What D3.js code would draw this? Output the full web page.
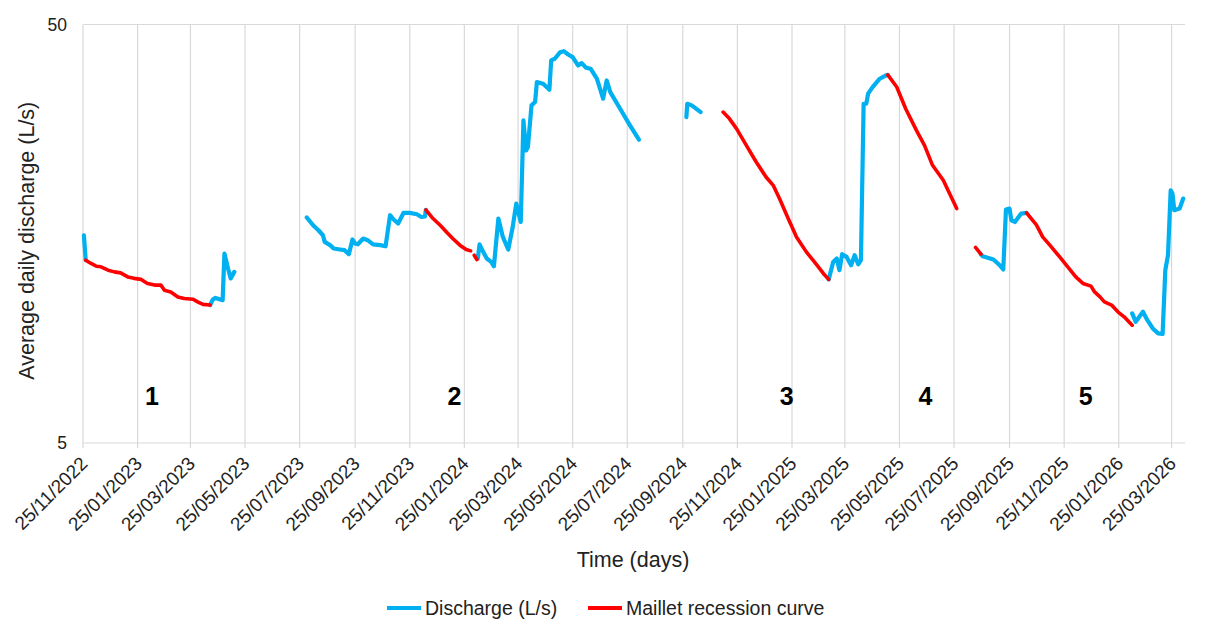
<!DOCTYPE html>
<html>
<head>
<meta charset="utf-8">
<script src="https://cdn.jsdelivr.net/npm/d3@7"></script>
<style>
  html, body { margin: 0; padding: 0; background: #fff; }
  svg { display: block; font-family: "Liberation Sans", Arial, sans-serif; }
</style>
</head>
<body>
<svg id="chart" width="1206" height="630"></svg>
<script>
// ---------- DATA ----------
const xTickDates = ["2022-11-25","2023-01-25","2023-03-25","2023-05-25","2023-07-25","2023-09-25",
  "2023-11-25","2024-01-25","2024-03-25","2024-05-25","2024-07-25","2024-09-25","2024-11-25",
  "2025-01-25","2025-03-25","2025-05-25","2025-07-25","2025-09-25","2025-11-25","2026-01-25","2026-03-25"];
const xDomain = ["2022-11-25", "2026-04-09"];
const yDomain = [5, 50];
const yTickValues = [5, 50];

// Discharge (L/s) observed segments
const discharge1a = [["2022-11-26",15.68],["2022-11-28",13.67]];
const discharge1b = [["2023-04-16",10.68],["2023-04-19",11.01],["2023-04-22",11.11],["2023-04-30",10.97],
  ["2023-05-02",14.18],["2023-05-06",13.06],["2023-05-09",12.37],["2023-05-13",12.82]];
const discharge2a = [["2023-08-02",17.29],["2023-08-09",16.57],["2023-08-15",16.12],["2023-08-20",15.68],
  ["2023-08-22",15.12],["2023-08-28",14.85],["2023-09-01",14.58],["2023-09-08",14.50],["2023-09-13",14.45],
  ["2023-09-18",14.13],["2023-09-22",15.32],["2023-09-25",14.98],["2023-09-28",14.92],["2023-10-04",15.40],
  ["2023-10-09",15.26],["2023-10-15",14.92],["2023-10-23",14.85],["2023-10-29",14.76],["2023-11-03",17.51],
  ["2023-11-07",17.10],["2023-11-12",16.73],["2023-11-18",17.73],["2023-11-25",17.73],["2023-12-03",17.60],
  ["2023-12-08",17.34],["2023-12-12",17.40],["2023-12-13",18.03]];
const discharge2b = [["2024-02-09",13.80],["2024-02-11",14.92],["2024-02-14",14.45],["2024-02-19",13.80],
  ["2024-02-24",13.54],["2024-02-27",13.22],["2024-03-03",17.19],["2024-03-08",15.54],["2024-03-14",14.50],
  ["2024-03-19",16.41],["2024-03-23",18.67],["2024-03-28",16.87],["2024-03-31",29.50],["2024-04-03",25.00],
  ["2024-04-05",25.48],["2024-04-09",32.04],["2024-04-13",32.63],["2024-04-15",36.41],["2024-04-22",36.10],
  ["2024-04-29",34.93],["2024-05-01",41.03],["2024-05-05",41.41],["2024-05-11",42.94],["2024-05-15",43.18],
  ["2024-05-20",42.40],["2024-05-25",41.78],["2024-05-31",39.92],["2024-06-04",40.43],["2024-06-09",39.42],
  ["2024-06-14",39.20],["2024-06-21",37.10],["2024-06-28",33.24],["2024-07-02",36.75],["2024-07-06",34.46],
  ["2024-07-17",31.46],["2024-07-28",28.70],["2024-08-07",26.53]];
const discharge2c = [["2024-09-29",30.04],["2024-09-30",32.33],["2024-10-05",32.04],["2024-10-15",30.88]];
const discharge3 = [["2025-03-07",12.30],["2025-03-12",13.54],["2025-03-16",13.80],["2025-03-19",12.94],
  ["2025-03-22",14.13],["2025-03-27",13.92],["2025-04-01",13.30],["2025-04-05",14.05],["2025-04-09",13.37],
  ["2025-04-12",13.67],["2025-04-15",32.33],["2025-04-18",32.33],["2025-04-20",34.17],["2025-04-25",35.44],
  ["2025-05-03",37.10],["2025-05-10",37.80],["2025-05-12",37.89]];
const discharge5a = [["2025-08-24",14.13],["2025-08-26",13.97],["2025-09-07",13.72],["2025-09-14",13.30],
  ["2025-09-18",12.99],["2025-09-21",18.07],["2025-09-25",18.16],["2025-09-27",17.03],["2025-10-01",16.87],
  ["2025-10-08",17.67],["2025-10-14",17.73]];
const discharge5b = [["2026-02-09",10.20],["2026-02-13",9.74],["2026-02-17",10.01],["2026-02-21",10.29],
  ["2026-02-26",9.83],["2026-03-04",9.39],["2026-03-10",9.14],["2026-03-15",9.11],["2026-03-18",12.94],
  ["2026-03-21",14.05],["2026-03-24",20.08],["2026-03-26",19.72],["2026-03-28",18.00],["2026-04-03",18.16],
  ["2026-04-07",19.19]];

// Maillet recession curve segments
const maillet1 = [["2022-11-28",13.67],["2022-12-04",13.43],["2022-12-10",13.22],["2022-12-15",13.18],
  ["2022-12-23",12.94],["2022-12-30",12.82],["2023-01-06",12.75],["2023-01-14",12.47],["2023-01-21",12.37],
  ["2023-01-29",12.30],["2023-02-05",12.03],["2023-02-13",11.92],["2023-02-20",11.92],["2023-02-24",11.59],
  ["2023-03-03",11.48],["2023-03-11",11.17],["2023-03-18",11.07],["2023-03-28",11.03],["2023-04-02",10.87],
  ["2023-04-08",10.72],["2023-04-16",10.68]];
const maillet2a = [["2023-12-13",18.03],["2023-12-21",17.19],["2023-12-29",16.57],["2024-01-05",15.97],
  ["2024-01-12",15.40],["2024-01-20",14.85],["2024-01-27",14.50],["2024-02-01",14.39]];
const maillet2b = [["2024-02-05",14.05],["2024-02-08",13.72]];
const maillet3 = [["2024-11-09",30.88],["2024-11-16",29.79],["2024-11-24",28.19],["2024-12-05",25.72],
  ["2024-12-16",23.46],["2024-12-27",21.61],["2025-01-04",20.64],["2025-01-11",19.19],["2025-01-20",17.34],
  ["2025-01-30",15.54],["2025-02-10",14.31],["2025-02-21",13.37],["2025-03-01",12.71],["2025-03-07",12.30]];
const maillet4 = [["2025-05-12",37.89],["2025-05-22",35.44],["2025-06-01",31.46],["2025-06-13",27.93],
  ["2025-06-22",25.72],["2025-07-01",23.04],["2025-07-13",21.22],["2025-07-20",19.72],["2025-07-28",18.16]];
const maillet5a = [["2025-08-18",14.66],["2025-08-24",14.13]];
const maillet5b = [["2025-10-14",17.73],["2025-10-25",16.60],["2025-11-01",15.54],["2025-11-09",14.85],
  ["2025-11-20",13.92],["2025-11-29",13.18],["2025-12-08",12.47],["2025-12-16",12.03],["2025-12-25",11.85],
  ["2025-12-29",11.48],["2026-01-04",11.17],["2026-01-09",10.87],["2026-01-17",10.68],["2026-01-24",10.29],
  ["2026-01-31",10.01],["2026-02-09",9.56]];

const periodLabels = ["1","2","3","4","5"];
const periodDates = ["2023-02-10","2024-01-14","2025-01-19","2025-06-23","2025-12-19"];
const periodValue = 6.47;

const dischargeSegments = [discharge1a, discharge1b, discharge2a, discharge2b, discharge2c, discharge3, discharge5a, discharge5b];
const mailletSegments = [maillet1, maillet2a, maillet2b, maillet3, maillet4, maillet5a, maillet5b];
const legendLabels = ["Discharge (L/s)", "Maillet recession curve"];
const colors = { discharge: "#00B0F0", maillet: "#FF0000" };

// ---------- CHART ----------
const parse = d3.utcParse("%Y-%m-%d");
const fmt = d3.utcFormat("%d/%m/%Y");
const margin = { left: 83, right: 21, top: 24.5, bottom: 187 };
const W = 1206, H = 630;
const svg = d3.select("#chart");

const x = d3.scaleUtc().domain(xDomain.map(parse)).range([margin.left, W - margin.right]);
const y = d3.scaleLog().domain(yDomain).range([H - margin.bottom, margin.top]);

const plotTop = margin.top, plotBottom = H - margin.bottom;
const grid = "#d9d9d9";

// vertical gridlines + tick marks
svg.append("g").selectAll("line").data(xTickDates.map(parse)).join("line")
  .attr("x1", d => x(d)).attr("x2", d => x(d))
  .attr("y1", plotTop).attr("y2", plotBottom + 5)
  .attr("stroke", grid).attr("stroke-width", 1.2);

// horizontal gridlines at ticks
svg.append("g").selectAll("line").data(yTickValues).join("line")
  .attr("x1", margin.left).attr("x2", W - margin.right)
  .attr("y1", d => y(d)).attr("y2", d => y(d))
  .attr("stroke", grid).attr("stroke-width", 1.2);

// y tick labels
svg.append("g").selectAll("text").data(yTickValues).join("text")
  .attr("x", 67).attr("y", d => y(d)).attr("dy", "0.35em")
  .attr("text-anchor", "end").attr("font-size", 17.5).attr("fill", "#222")
  .text(d => d);

// x tick labels (rotated)
svg.append("g").selectAll("text").data(xTickDates.map(parse)).join("text")
  .attr("transform", d => `translate(${x(d) + 1},${plotBottom + 17}) rotate(-45)`)
  .attr("dy", "0.35em").attr("text-anchor", "end")
  .attr("font-size", 19).attr("fill", "#222")
  .text(d => fmt(d));

// axis titles
svg.append("text").attr("x", 633).attr("y", 567).attr("text-anchor", "middle")
  .attr("font-size", 21.5).attr("fill", "#222").text("Time (days)");
svg.append("text").attr("transform", `translate(34,${(plotTop + plotBottom) / 2 + 7}) rotate(-90)`)
  .attr("text-anchor", "middle").attr("font-size", 21.5).attr("fill", "#222")
  .text("Average daily discharge (L/s)");

// lines
const line = d3.line().x(d => x(parse(d[0]))).y(d => y(d[1])).curve(d3.curveLinear);
svg.append("g").selectAll("path").data(dischargeSegments).join("path")
  .attr("d", line).attr("fill", "none").attr("stroke", colors.discharge)
  .attr("stroke-width", 4.2).attr("stroke-linejoin", "round").attr("stroke-linecap", "round");
svg.append("g").selectAll("path").data(mailletSegments).join("path")
  .attr("d", line).attr("fill", "none").attr("stroke", colors.maillet)
  .attr("stroke-width", 3.6).attr("stroke-linejoin", "round").attr("stroke-linecap", "round");

// period labels
svg.append("g").selectAll("text").data(periodLabels).join("text")
  .attr("x", (d, i) => x(parse(periodDates[i]))).attr("y", y(periodValue))
  .attr("dy", "0.35em").attr("text-anchor", "middle")
  .attr("font-size", 25).attr("font-weight", "bold").attr("fill", "#000")
  .text(d => d);

// legend
const legend = svg.append("g");
const legendItems = [
  { label: legendLabels[0], color: colors.discharge, x0: 387 },
  { label: legendLabels[1], color: colors.maillet, x0: 588 }
];
legendItems.forEach(it => {
  legend.append("line").attr("x1", it.x0).attr("x2", it.x0 + 34)
    .attr("y1", 608).attr("y2", 608).attr("stroke", it.color).attr("stroke-width", 4);
  legend.append("text").attr("x", it.x0 + 38).attr("y", 615)
    .attr("font-size", 19.5).attr("fill", "#222").text(it.label);
});
</script>
</body>
</html>
